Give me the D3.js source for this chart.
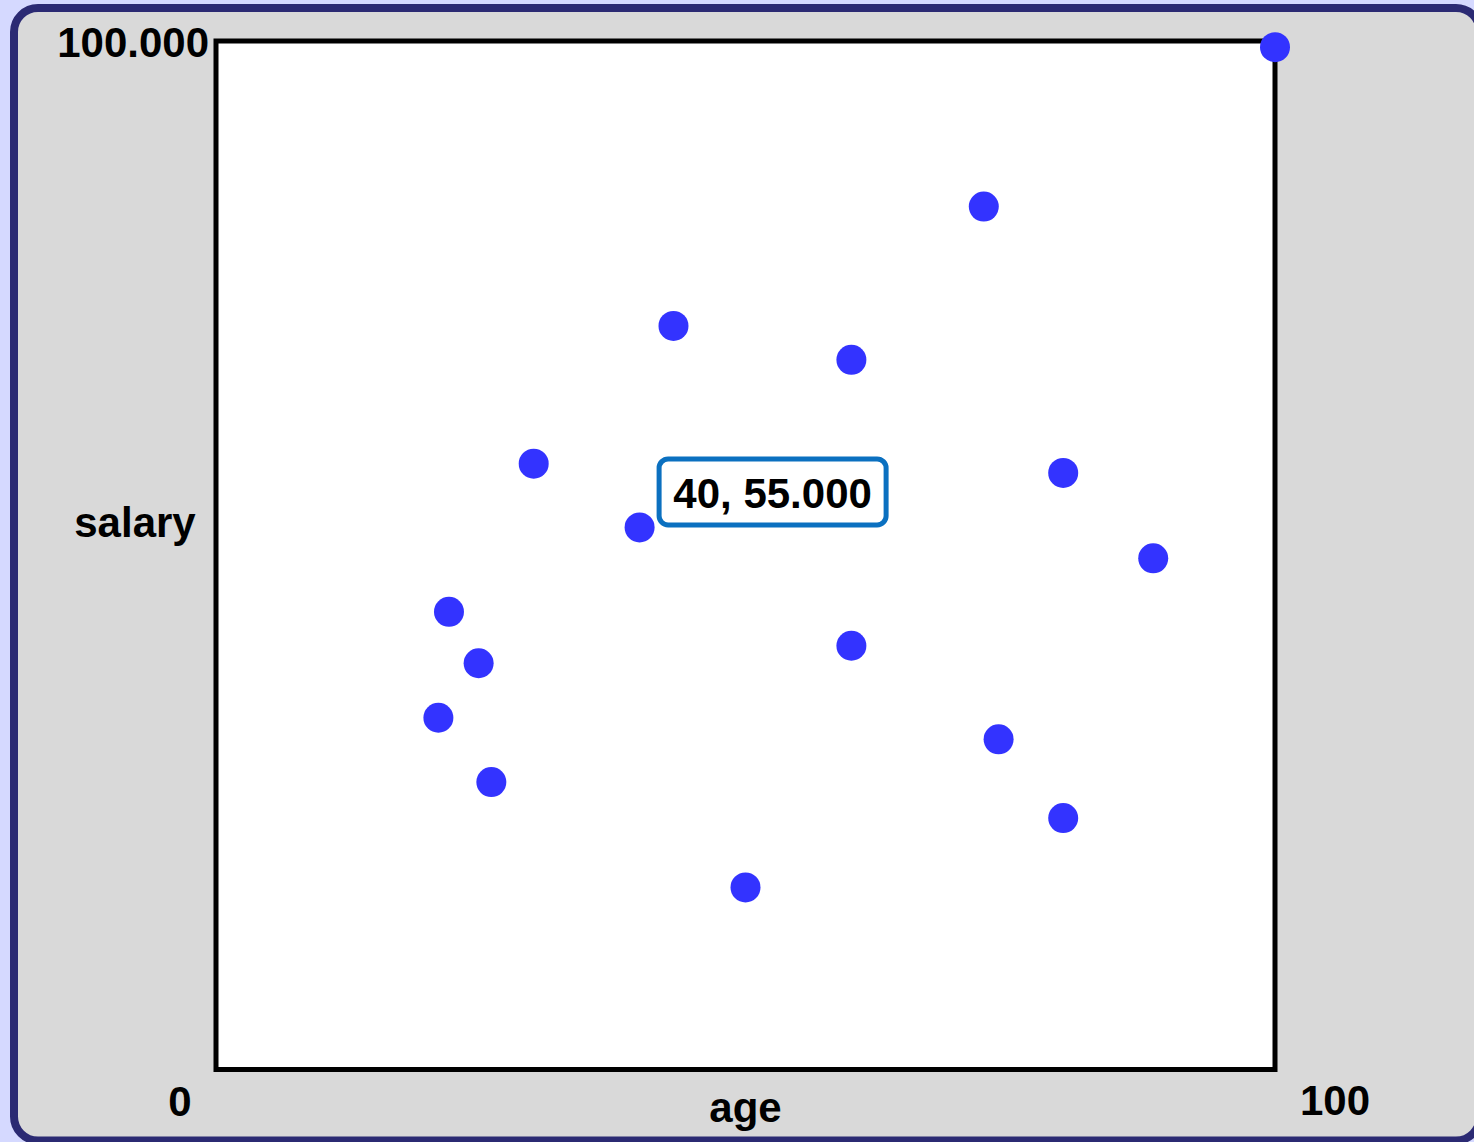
<!DOCTYPE html>
<html>
<head>
<meta charset="utf-8">
<script src="https://cdn.jsdelivr.net/npm/d3@7"></script>
<style>
  html, body { margin: 0; padding: 0; background: #d5d9ff; overflow: hidden; }
  svg { display: block; }
  text { font-family: "Liberation Sans", Arial, sans-serif; font-weight: bold; fill: #000; }
</style>
</head>
<body>
<svg id="chart" width="1474" height="1142"></svg>
<script>
// ---- data ----
const ages     = [100, 72.5, 43.2, 60, 30, 80, 40, 88.5, 22, 24.8, 60, 21, 73.9, 26, 80, 50];
const salaries = [99400, 83900, 72300, 69000, 58900, 58000, 52700, 49700, 44500, 39500, 41200, 34200, 32100, 27950, 24450, 17700];
const xDomain = [0, 100];
const yDomain = [0, 100000];
const xTickLabels = ["0", "100"];
const yTickLabels = ["100.000"];
const xLabel = "age";
const yLabel = "salary";
const tooltipIndex = 6;
const tooltipText = "40, 55.000";

const svg = d3.select("#chart");

// outer panel (right edge runs past the viewport, as in the reference)
svg.append("rect")
  .attr("x", 14).attr("y", 8)
  .attr("width", 1466).attr("height", 1132.5)
  .attr("rx", 24).attr("ry", 24)
  .attr("fill", "#d9d9d9")
  .attr("stroke", "#2b2a73")
  .attr("stroke-width", 8);

const plot = { left: 216, right: 1275, top: 41, bottom: 1069.5 };

const x = d3.scaleLinear().domain(xDomain).range([plot.left, plot.right]);
const y = d3.scaleLinear().domain(yDomain).range([plot.bottom, plot.top]);

// plot frame
svg.append("rect")
  .attr("x", x(xDomain[0])).attr("y", y(yDomain[1]))
  .attr("width", x(xDomain[1]) - x(xDomain[0]))
  .attr("height", y(yDomain[0]) - y(yDomain[1]))
  .attr("fill", "#ffffff")
  .attr("stroke", "#000")
  .attr("stroke-width", 5);

// tick labels
svg.append("text")
  .attr("x", x(xDomain[0]) - 36).attr("y", 1116)
  .attr("text-anchor", "middle").attr("font-size", 42)
  .text(xTickLabels[0]);
svg.append("text")
  .attr("x", x(xDomain[1]) + 60).attr("y", 1115)
  .attr("text-anchor", "middle").attr("font-size", 42)
  .text(xTickLabels[1]);
svg.append("text")
  .attr("x", x(xDomain[0]) - 7).attr("y", y(yDomain[1]) + 16)
  .attr("text-anchor", "end").attr("font-size", 42)
  .text(yTickLabels[0]);

// axis titles
svg.append("text")
  .attr("x", (x(xDomain[0]) + x(xDomain[1])) / 2).attr("y", 1122)
  .attr("text-anchor", "middle").attr("font-size", 42)
  .text(xLabel);
svg.append("text")
  .attr("x", 135).attr("y", 537)
  .attr("text-anchor", "middle").attr("font-size", 42)
  .text(yLabel);

// points
const pts = ages.map((a, i) => ({ age: a, salary: salaries[i] }));
svg.append("g").selectAll("circle")
  .data(pts)
  .join("circle")
  .attr("cx", d => x(d.age))
  .attr("cy", d => y(d.salary))
  .attr("r", 15)
  .attr("fill", "#3333ff");

// tooltip
const tp = pts[tooltipIndex];
const tx = x(tp.age) + 19.5, tyBottom = y(tp.salary) - 2.5;
const tw = 227, th = 66;
const tg = svg.append("g");
tg.append("rect")
  .attr("x", tx).attr("y", tyBottom - th)
  .attr("width", tw).attr("height", th)
  .attr("rx", 9).attr("ry", 9)
  .attr("fill", "#ffffff")
  .attr("stroke", "#0b70c0")
  .attr("stroke-width", 5);
tg.append("text")
  .attr("x", tx + tw / 2).attr("y", tyBottom - 17)
  .attr("text-anchor", "middle").attr("font-size", 42)
  .text(tooltipText);
</script>
</body>
</html>
